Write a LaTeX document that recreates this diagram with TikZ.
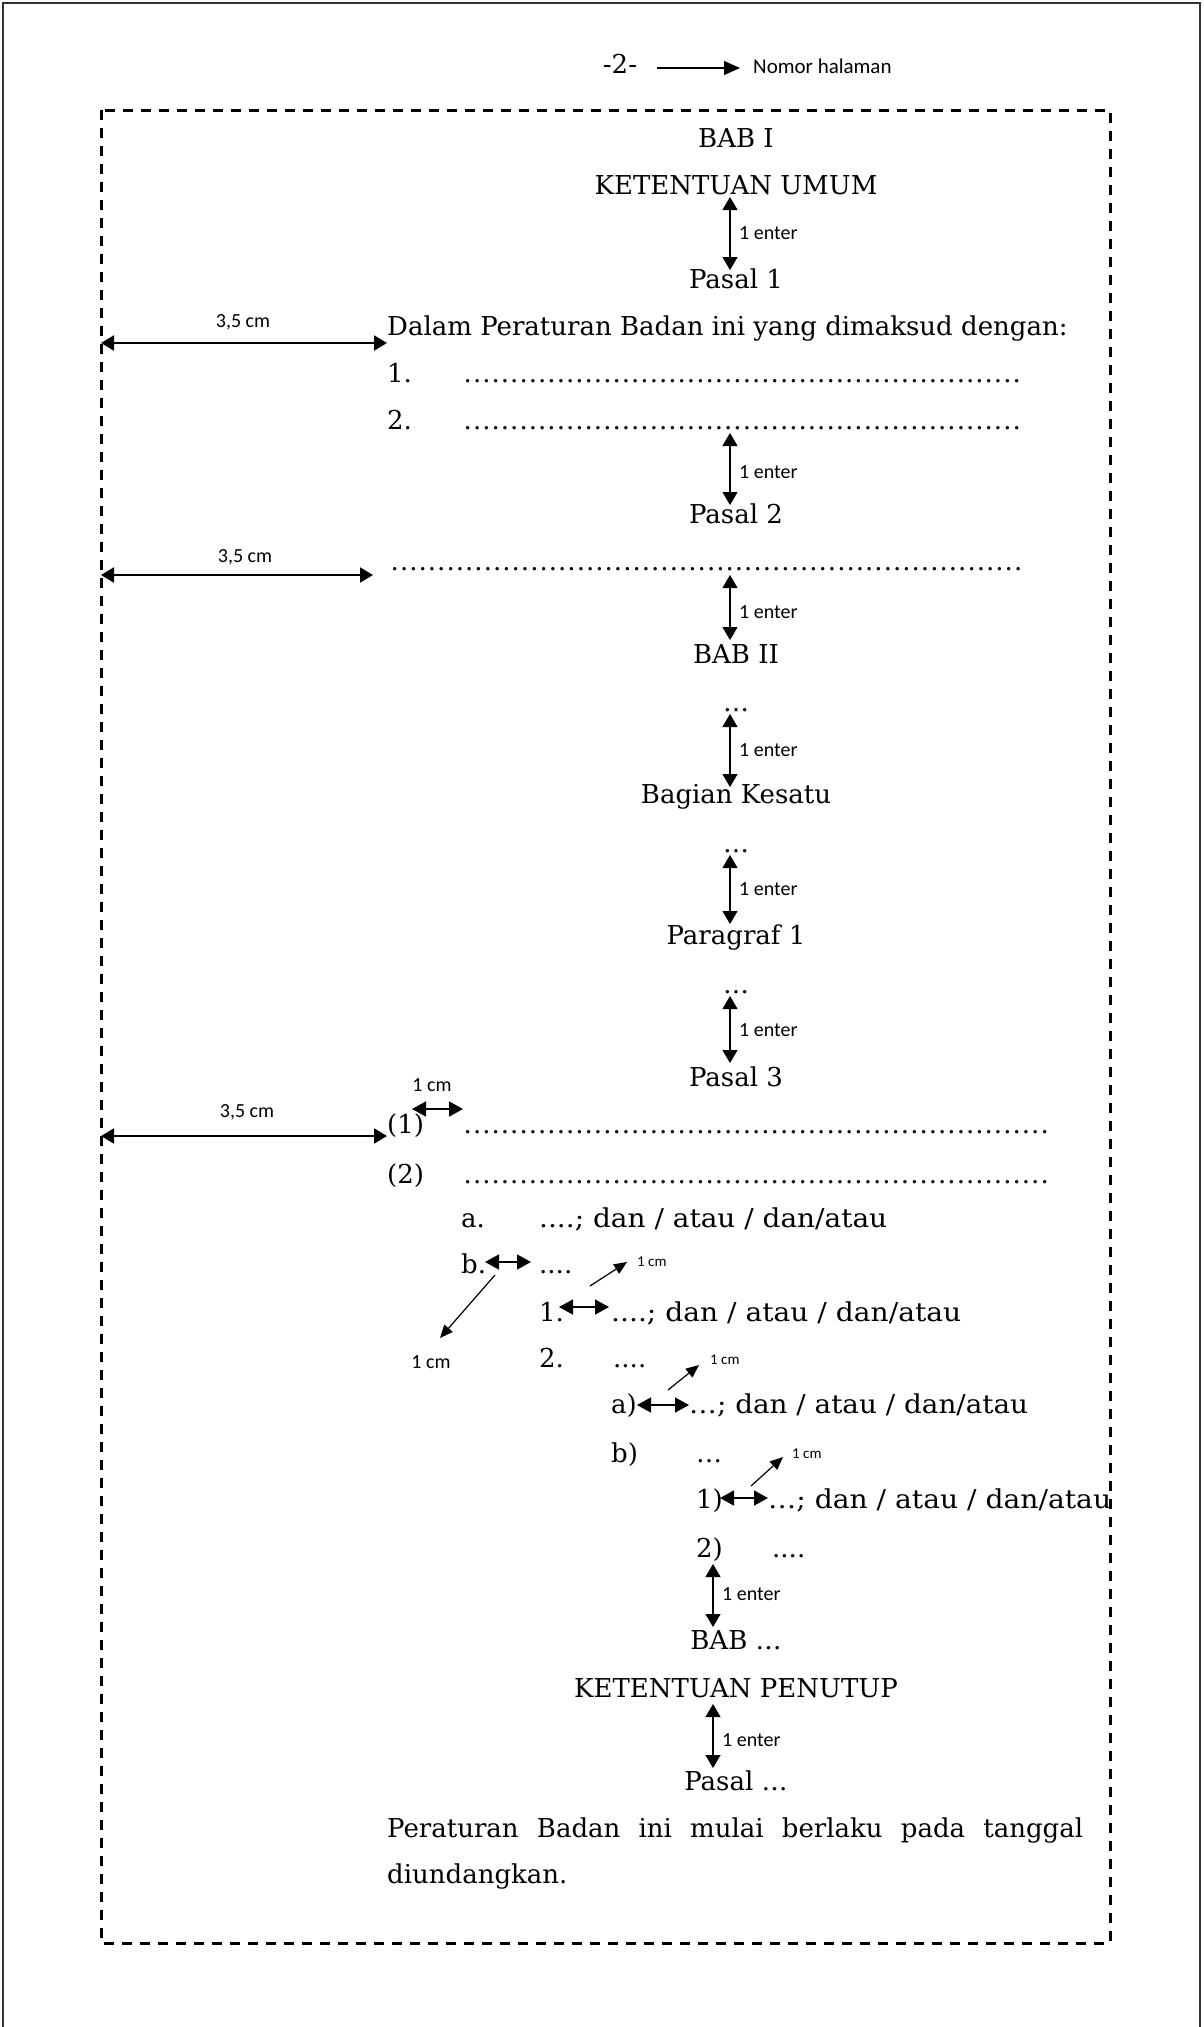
\documentclass[tikz,border=0pt]{standalone}
\usepackage{graphicx}
\usepackage{fontspec}
\setmainfont{DejaVu Serif}
\newfontfamily\labelfont{Carlito}
\usetikzlibrary{arrows.meta}

% a row of leader dots of a given width
\newcommand\dotrow[1]{\hbox to #1{\leaders\hbox to 9.3pt{\hss.\hss}\hfill}}
% a line of text widened to a given width, height unchanged
\newcommand\widen[2]{\resizebox{#1}{\height}{#2}}
% a line of text spread (justified) to a given width
\newcommand\spread[2]{\makebox[#1][s]{#2}}

\tikzset{
  body/.style={font=\fontsize{26}{30}\selectfont, inner sep=0pt, anchor=base west},
  heading/.style={font=\fontsize{26}{30}\selectfont, inner sep=0pt, anchor=base},
  note/.style={font=\labelfont\fontsize{20}{24}\selectfont, inner sep=0pt},
  small/.style={font=\labelfont\fontsize{15}{18}\selectfont, inner sep=0pt, anchor=base west},
  enter/.style={{Triangle[length=13pt,width=15pt]}-{Triangle[length=13pt,width=15pt]}, line width=1.1pt},
  margin/.style={{Triangle[length=13pt,width=15pt]}-{Triangle[length=13pt,width=15pt]}, line width=2pt},
  indent/.style={{Triangle[length=14pt,width=15pt]}-{Triangle[length=14pt,width=15pt]}, line width=1.5pt},
  pointer/.style={-{Triangle[length=13pt,width=11pt]}, line width=1.2pt},
  frame/.style={line width=3pt, dash pattern=on 10pt off 8pt},
}

\begin{document}
\begin{tikzpicture}[x=1pt, y=-1pt]
\useasboundingbox (0,0) rectangle (1203,2027);

% page border and dashed text area
\draw[line width=1.5pt, black!80] (3,2027) -- (3,3) -- (1200,3) -- (1200,2027);
\draw[frame] (101,110) rectangle (1110,1943);

% page number
\node[heading] (pg) at (620,73) {-2-};
\node[note, anchor=base west, font=\labelfont\fontsize{21}{24}\selectfont] (pgnote) at (753,73) {Nomor halaman};
\coordinate (pgarrow) at (657,68);
\coordinate (pgtip) at (740,68);
\draw[line width=1.1pt, -{Triangle[length=16pt,width=14pt]}] (pgarrow) -- (pgtip);

% headings
\node[heading] (bab1) at (736,147) {BAB I};
\node[heading] (ku)   at (736,194) {KETENTUAN UMUM};
\node[heading] (p1)   at (736,288) {Pasal 1};
\node[heading] (p2)   at (736,523) {Pasal 2};
\node[heading] (bab2) at (736,663) {BAB II};
\node[heading] (el1)  at (736,711) {…};
\node[heading] (bk)   at (736,803) {Bagian Kesatu};
\node[heading] (el2)  at (736,852) {…};
\node[heading] (par)  at (736,944) {Paragraf 1};
\node[heading] (el3)  at (736,993) {…};
\node[heading] (p3)   at (736,1086) {Pasal 3};
\node[heading] (babn) at (736,1649) {BAB …};
\node[heading] (kp)   at (736,1697) {KETENTUAN PENUTUP};
\node[heading] (pn)   at (736,1790) {Pasal …};

% Pasal 1
\node[body] (dalam) at (387,335) {Dalam Peraturan Badan ini yang dimaksud dengan:};
\node[body] (n1) at (387,382) {1.};
\node[body] (d1) at (463,382) {\dotrow{564pt}};
\node[body] (n2) at (387,429) {2.};
\node[body] (d2) at (463,429) {\dotrow{564pt}};

% Pasal 2
\node[body] (d3) at (390,570) {\dotrow{640pt}};

% Pasal 3
\node[body] (i1) at (387,1133) {(1)};
\node[body] (d4) at (463,1133) {\dotrow{592pt}};
\node[body] (i2) at (387,1183) {(2)};
\node[body] (d5) at (463,1183) {\dotrow{592pt}};
\node[body] (la) at (461,1227) {a.};
\node[body] (ta) at (539,1227) {\widen{348pt}{....; dan / atau / dan/atau}};
\node[body] (lb) at (461,1273) {b.};
\node[body] (tb) at (539,1273) {....};
\node[body] (l1) at (539,1321) {1.};
\node[body] (t1) at (611,1321) {\widen{350pt}{....; dan / atau / dan/atau}};
\node[body] (l2) at (539,1367) {2.};
\node[body] (t2) at (613,1367) {....};
\node[body] (lpa) at (611,1413) {a)};
\node[body] (tpa) at (689,1413) {\widen{339pt}{…; dan / atau / dan/atau}};
\node[body] (lpb) at (611,1462) {b)};
\node[body] (tpb) at (696,1462) {…};
\node[body] (lp1) at (696,1508) {1)};
\node[body] (tp1) at (768,1508) {\widen{343pt}{…; dan / atau / dan/atau}};
\node[body] (lp2) at (696,1557) {2)};
\node[body] (tp2) at (772,1557) {....};

% closing article
\node[body] (per) at (387,1837) {\spread{696pt}{Peraturan Badan ini mulai berlaku pada tanggal}};
\node[body] (diu) at (387,1883) {diundangkan.};

% one-enter spacing arrows
\foreach \name/\top/\bot/\mid/\x in {
    sa/197/270/233/730, sb/433/505/472/730, sc/575/640/612/730,
    sd/714/787/750/730, se/855/924/889/730, sf/996/1063/1030/730,
    sg/1564/1627/1594/713, sh/1704/1768/1740/713} {
  \coordinate (\name-top) at (\x,\top);
  \coordinate (\name-bot) at (\x,\bot);
  \draw[enter] (\name-top) -- (\name-bot);
  \node[note, anchor=west] (\name-lbl) at (\x+9,\mid) {1 enter};
}

% 3,5 cm left margin arrows
\coordinate (ma) at (101,343);
\draw[margin] (ma) -- (dalam.west |- ma);
\node[note, anchor=base] (ma-lbl) at (243,327) {3,5 cm};
\coordinate (mb) at (101,575);
\coordinate (mb-end) at (373,575);
\draw[margin] (mb) -- (mb-end);
\node[note, anchor=base] (mb-lbl) at (245,562) {3,5 cm};
\coordinate (mc) at (101,1136);
\draw[margin] (mc) -- (i1.west |- mc);
\node[note, anchor=base] (mc-lbl) at (247,1117) {3,5 cm};

% 1 cm indent arrows
\coordinate (ia-l) at (412,1109); \coordinate (ia-r) at (463,1109);
\draw[indent] (ia-l) -- (ia-r);
\node[note, anchor=base] (ia-lbl) at (432,1091) {1 cm};
\coordinate (ib-l) at (485,1262); \coordinate (ib-r) at (531,1262);
\draw[indent] (ib-l) -- (ib-r);
\coordinate (ic-l) at (559,1307); \coordinate (ic-r) at (609,1307);
\draw[indent] (ic-l) -- (ic-r);
\coordinate (id-l) at (637,1405); \coordinate (id-r) at (689,1405);
\draw[indent] (id-l) -- (id-r);
\coordinate (ie-l) at (720,1498); \coordinate (ie-r) at (768,1498);
\draw[indent] (ie-l) -- (ie-r);

% pointers to the 1 cm labels
\coordinate (pa-t) at (590,1286); \coordinate (pa-h) at (627,1262);
\draw[pointer] (pa-t) -- (pa-h);
\node[small] (pa-lbl) at (637,1266) {1 cm};
\coordinate (pb-t) at (495,1275); \coordinate (pb-h) at (440,1338);
\draw[pointer] (pb-t) -- (pb-h);
\node[note, anchor=base] (pb-lbl) at (431,1368) {1 cm};
\coordinate (pc-t) at (668,1390); \coordinate (pc-h) at (699,1365);
\draw[pointer] (pc-t) -- (pc-h);
\node[small] (pc-lbl) at (710,1364) {1 cm};
\coordinate (pd-t) at (751,1486); \coordinate (pd-h) at (783,1457);
\draw[pointer] (pd-t) -- (pd-h);
\node[small] (pd-lbl) at (792,1458) {1 cm};
\end{tikzpicture}
\end{document}
